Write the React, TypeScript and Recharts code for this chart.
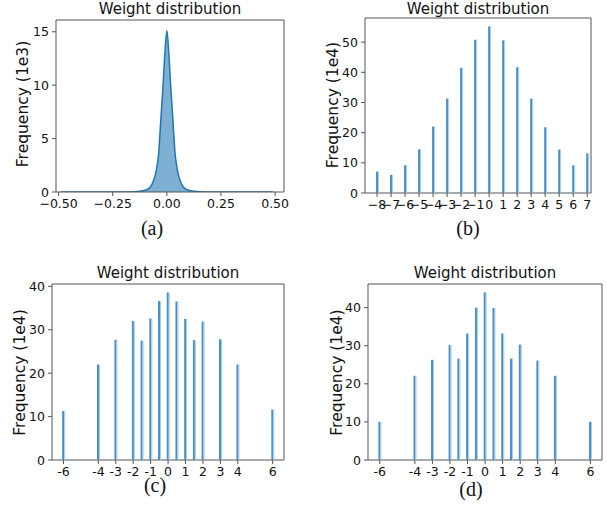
import type { CSSProperties } from 'react';
import { BarChart, Bar, XAxis, YAxis, ReferenceArea, ComposedChart, Area } from 'recharts';

// ---------------------------------------------------------------------------
// Weight distribution — four panels (a)–(d)
// ---------------------------------------------------------------------------

// (a) density of full precision weights, 1e3
const kdeX = [-0.49, -0.2, -0.15, -0.1, -0.076, -0.061, -0.049, -0.038, -0.028, -0.018, -0.009, 0,
  0.009, 0.018, 0.028, 0.038, 0.049, 0.061, 0.076, 0.1, 0.15, 0.2, 0.49];
const kdeY = [0, 0, 0.02, 0.17, 0.47, 1.1, 2.0, 3.6, 6.7, 9.8, 13.0, 15.1,
  13.0, 9.8, 6.7, 3.6, 2.0, 1.1, 0.47, 0.17, 0.02, 0, 0];

// (b) 4-bit uniform levels, 1e4
const levelsB = [-8, -7, -6, -5, -4, -3, -2, -1, 0, 1, 2, 3, 4, 5, 6, 7];
const countsB = [7.1, 6.0, 9.2, 14.5, 22.0, 31.3, 41.5, 50.8, 55.2, 50.6, 41.7, 31.3, 21.8, 14.4, 9.2, 13.1];

// (c), (d) non-uniform levels, 1e4
const levelsCD = [-6, -4, -3, -2, -1.5, -1, -0.5, 0, 0.5, 1, 1.5, 2, 3, 4, 6];
const countsC = [11.3, 22.0, 27.7, 32.0, 27.5, 32.6, 36.6, 38.6, 36.5, 32.5, 27.6, 31.9, 27.8, 22.0, 11.6];
const countsD = [10.0, 22.1, 26.3, 30.2, 26.6, 33.2, 40.0, 44.0, 39.9, 33.2, 26.6, 30.3, 26.1, 22.1, 10.0];

const ticksAX = [-0.5, -0.25, 0, 0.25, 0.5];
const ticksAY = [0, 5, 10, 15];
const ticksBY = [0, 10, 20, 30, 40, 50];
const ticksCDX = [-6, -4, -3, -2, -1, 0, 1, 2, 3, 4, 6];
const ticksCDY = [0, 10, 20, 30, 40];

const kdeData = kdeX.map((x, i) => ({ x, y: kdeY[i] }));
const dataB = levelsB.map((x, i) => ({ x, y: countsB[i] }));
const dataC = levelsCD.map((x, i) => ({ x, y: countsC[i] }));
const dataD = levelsCD.map((x, i) => ({ x, y: countsD[i] }));

const SANS = 'DejaVu Sans';
const SERIF = 'Liberation Serif';
const SPINE = '#555';
const TICK_FS = 12.5;

const minus = (s: string) => s.replace('-', '\u2212');

// plot box geometry per panel
type Box = { l: number; r: number; t: number; b: number };
const YW = 50;
const MT = 5;
const MR = 5;
const XH = 30;

function wrap(box: Box): CSSProperties {
  return { position: 'absolute', left: box.l - YW, top: box.t - MT };
}

const size = (box: Box) => ({
  width: YW + (box.r - box.l) + MR,
  height: MT + (box.b - box.t) + XH,
});

const margin = { top: MT, right: MR, left: 0, bottom: 0 };

const makeXTick = (fmt: (v: number) => string) => (p: any) => (
  <text x={p.x} y={p.y} dy="0.76em" textAnchor="middle" fontFamily={SANS} fontSize={TICK_FS} fill="#111">
    {fmt(p.payload.value)}
  </text>
);

const YTick = (p: any) => (
  <text x={p.x} y={p.y} dy="0.36em" textAnchor="end" fontFamily={SANS} fontSize={TICK_FS} fill="#111">
    {String(p.payload.value)}
  </text>
);

// thin histogram stem: darker body with a light right edge
const Stem = (props: any) => {
  const { x, y, width, height } = props;
  if (height == null || height <= 0) return null;
  const w = (width * 2) / 3;
  return (
    <g>
      <rect x={x} y={y} width={w} height={height} fill="#4a90c8" />
      <rect x={x + w} y={y} width={width - w} height={height} fill="#a9cbe8" />
    </g>
  );
};

function StemPanel({
  box, data, xDomain, yDomain, xTicks, yTicks, fmt,
}: {
  box: Box; data: { x: number; y: number }[]; xDomain: [number, number]; yDomain: [number, number];
  xTicks: number[]; yTicks: number[]; fmt: (v: number) => string;
}) {
  const s = size(box);
  return (
    <div style={wrap(box)}>
      <BarChart width={s.width} height={s.height} data={data} margin={margin}>
        <XAxis
          dataKey="x"
          type="number"
          domain={xDomain}
          ticks={xTicks}
          interval={0}
          allowDataOverflow
          tick={makeXTick(fmt)}
          tickSize={4}
          tickMargin={2}
          axisLine={false}
          tickLine={{ stroke: SPINE }}
          height={XH}
        />
        <YAxis
          type="number"
          domain={yDomain}
          ticks={yTicks}
          interval={0}
          allowDataOverflow
          tick={YTick}
          tickSize={4}
          tickMargin={3}
          axisLine={false}
          tickLine={{ stroke: SPINE }}
          width={YW}
        />
        <Bar dataKey="y" barSize={3} shape={Stem} isAnimationActive={false} />
        <ReferenceArea x1={xDomain[0]} x2={xDomain[1]} y1={yDomain[0]} y2={yDomain[1]} fill="none" stroke={SPINE} strokeWidth={1} />
      </BarChart>
    </div>
  );
}

const boxA: Box = { l: 56, r: 284, t: 20, b: 192 };
const boxB: Box = { l: 365, r: 591, t: 18, b: 193 };
const boxC: Box = { l: 52, r: 284, t: 284, b: 460 };
const boxD: Box = { l: 368, r: 602, t: 284, b: 460 };

const titleStyle = { fontFamily: SANS, fontSize: 15, fill: '#111' } as const;
const labelStyle = { fontFamily: SANS, fontSize: 15.5, fill: '#111' } as const;
const capStyle = { fontFamily: SERIF, fontSize: 20, fill: '#111' } as const;

export default function App() {
  const sA = size(boxA);
  const xDomA: [number, number] = [-0.512, 0.541];
  const yDomA: [number, number] = [0, 16.1];
  return (
    <div style={{ position: 'absolute', left: 0, top: 0, width: 607, height: 508, background: '#fff', overflow: 'hidden' }}>
      <div style={wrap(boxA)}>
        <ComposedChart width={sA.width} height={sA.height} data={kdeData} margin={margin}>
          <XAxis
            dataKey="x"
            type="number"
            domain={xDomA}
            ticks={ticksAX}
            interval={0}
            allowDataOverflow
            tick={makeXTick((v) => minus(v.toFixed(2)))}
            tickSize={4}
            tickMargin={2}
            axisLine={false}
            tickLine={{ stroke: SPINE }}
            height={XH}
          />
          <YAxis
            type="number"
            domain={yDomA}
            ticks={ticksAY}
            interval={0}
            allowDataOverflow
            tick={YTick}
            tickSize={4}
            tickMargin={3}
            axisLine={false}
            tickLine={{ stroke: SPINE }}
            width={YW}
          />
          <Area
            dataKey="y"
            type="monotone"
            stroke="#1f77b4"
            strokeWidth={1.5}
            fill="#1f77b4"
            fillOpacity={0.58}
            dot={false}
            isAnimationActive={false}
          />
          <ReferenceArea x1={xDomA[0]} x2={xDomA[1]} y1={yDomA[0]} y2={yDomA[1]} fill="none" stroke={SPINE} strokeWidth={1} />
        </ComposedChart>
      </div>

      <StemPanel
        box={boxB}
        data={dataB}
        xDomain={[-8.86, 7.27]}
        yDomain={[0, 58]}
        xTicks={levelsB}
        yTicks={ticksBY}
        fmt={(v) => minus(String(v))}
      />
      <StemPanel
        box={boxC}
        data={dataC}
        xDomain={[-6.66, 6.65]}
        yDomain={[0, 40.55]}
        xTicks={ticksCDX}
        yTicks={ticksCDY}
        fmt={(v) => String(v)}
      />
      <StemPanel
        box={boxD}
        data={dataD}
        xDomain={[-6.67, 6.66]}
        yDomain={[0, 46.2]}
        xTicks={ticksCDX}
        yTicks={ticksCDY}
        fmt={(v) => String(v)}
      />

      <svg width={607} height={508} style={{ position: 'absolute', left: 0, top: 0, pointerEvents: 'none' }}>
        <text x={170} y={14} textAnchor="middle" style={titleStyle}>Weight distribution</text>
        <text x={478} y={14} textAnchor="middle" style={titleStyle}>Weight distribution</text>
        <text x={168} y={278} textAnchor="middle" style={titleStyle}>Weight distribution</text>
        <text x={485} y={278} textAnchor="middle" style={titleStyle}>Weight distribution</text>

        <text x={27.5} y={104} textAnchor="middle" transform="rotate(-90 27.5 104)" style={labelStyle}>Frequency (1e3)</text>
        <text x={338} y={105} textAnchor="middle" transform="rotate(-90 338 105)" style={labelStyle}>Frequency (1e4)</text>
        <text x={24.7} y={372.5} textAnchor="middle" transform="rotate(-90 24.7 372.5)" style={labelStyle}>Frequency (1e4)</text>
        <text x={341.5} y={372.5} textAnchor="middle" transform="rotate(-90 341.5 372.5)" style={labelStyle}>Frequency (1e4)</text>

        <text x={152} y={235} textAnchor="middle" style={capStyle}>(a)</text>
        <text x={468} y={235} textAnchor="middle" style={capStyle}>(b)</text>
        <text x={155} y={492} textAnchor="middle" style={capStyle}>(c)</text>
        <text x={471} y={496} textAnchor="middle" style={capStyle}>(d)</text>
      </svg>
    </div>
  );
}
